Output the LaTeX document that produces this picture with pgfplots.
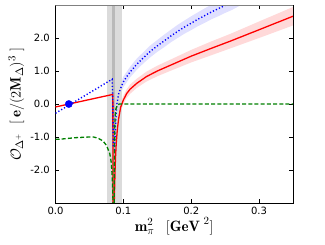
\documentclass[border=0pt]{standalone}
\usepackage{pgfplots}
\pgfplotsset{compat=1.18}
\usepgfplotslibrary{fillbetween}
\usepackage{fontspec}
\newfontfamily\tickfont{DejaVu Sans}
\begin{document}
\begin{tikzpicture}
\begin{axis}[
  at={(0,0)}, anchor=south west,
  scale only axis, width=237.5pt, height=198pt,
  xmin=0, xmax=0.35, ymin=-3, ymax=3,
  xtick={0,0.1,0.2,0.3}, xticklabels={0.0,0.1,0.2,0.3},
  ytick={-2,-1,0,1,2}, yticklabels={-2.0,-1.0,0.0,1.0,2.0},
  tick align=inside, major tick length=3.5pt, minor tick num=0,
  tick style={black, line width=0.5pt},
  axis line style={black, line width=0.8pt},
  xticklabel style={font=\tickfont\fontsize{10}{12}\selectfont, inner sep=0pt, yshift=-3.5pt},
  yticklabel style={font=\tickfont\fontsize{10}{12}\selectfont, inner sep=0pt, xshift=-5.5pt},
  xlabel={$\mathbf{m}_\pi^2\ \ \,[\mathbf{GeV}^{\,\,2}]$},
  ylabel={$\mathcal{O}_{\Delta^+}\ \ [\,\mathbf{e}/(2\mathbf{M}_\Delta)^3\,\,]$},
  xlabel style={font=\fontsize{15}{18}\selectfont, at={(axis description cs:0.5,-0.118)}, anchor=center},
  ylabel style={font=\fontsize{15}{18}\selectfont, at={(axis description cs:-0.165,0.5)}, anchor=center},
  clip=true,
]
% grey threshold bands
\addplot[fill=gray!28, draw=none] coordinates {(0.0754,-3) (0.0975,-3) (0.0975,3) (0.0754,3)} -- cycle;
\addplot[fill=gray!55, draw=none] coordinates {(0.0837,-3) (0.0877,-3) (0.0877,3) (0.0837,3)} -- cycle;
% red band
\addplot[name path=ru, draw=none, forget plot] coordinates {
(0.093,-0.33) (0.096,0.03) (0.1,0.25) (0.105,0.45) (0.11,0.59) (0.12,0.77) (0.134,0.98) (0.15,1.16) (0.17,1.35) (0.2,1.64) (0.23,1.90) (0.257,2.12) (0.3,2.50) (0.35,2.94)};
\addplot[name path=rl, draw=none, forget plot] coordinates {
(0.093,-0.57) (0.096,-0.23) (0.1,-0.01) (0.105,0.19) (0.11,0.31) (0.12,0.49) (0.134,0.68) (0.15,0.84) (0.17,1.01) (0.2,1.26) (0.23,1.48) (0.257,1.68) (0.3,2.00) (0.35,2.38)};
\addplot[red!15, draw=none] fill between[of=ru and rl];
% blue band
\addplot[name path=bu, draw=none, forget plot] coordinates {
(0.093,0.45) (0.1,0.83) (0.11,1.13) (0.12,1.38) (0.13,1.58) (0.14,1.78) (0.15,1.94) (0.16,2.10) (0.17,2.25) (0.18,2.40) (0.19,2.53) (0.2,2.66) (0.21,2.78) (0.22,2.90) (0.23,3.01) (0.24,3.12) (0.25,3.22) (0.26,3.33) (0.27,3.44) (0.28,3.55)};
\addplot[name path=bl, draw=none, forget plot] coordinates {
(0.093,0.15) (0.1,0.51) (0.11,0.81) (0.12,1.04) (0.13,1.24) (0.14,1.42) (0.15,1.58) (0.16,1.72) (0.17,1.87) (0.18,2.00) (0.19,2.13) (0.2,2.24) (0.21,2.36) (0.22,2.46) (0.23,2.57) (0.24,2.66) (0.25,2.76) (0.26,2.85) (0.27,2.96) (0.28,3.05)};
\addplot[blue!12, draw=none] fill between[of=bu and bl];
% left small bands
\addplot[blue!10, draw=none] coordinates {(0,-0.22) (0.0835,0.83) (0.0835,0.67) (0,-0.34)} -- cycle;
\addplot[red!12, draw=none] coordinates {(0,-0.06) (0.0845,0.32) (0.0845,0.26) (0,-0.12)} -- cycle;
% red curve
\addplot[red, line width=1.3pt] coordinates {(0,-0.09) (0.0845,0.29) (0.0848,-3.0)};
\addplot[red, line width=1.3pt] coordinates {
(0.0866,-3.0) (0.0872,-2.5) (0.0878,-2.0) (0.0885,-1.6) (0.0895,-1.2) (0.091,-0.8) (0.093,-0.45) (0.096,-0.1) (0.1,0.12) (0.105,0.32) (0.11,0.45) (0.12,0.63) (0.134,0.83) (0.15,1.0) (0.17,1.18) (0.2,1.45) (0.23,1.69) (0.257,1.9) (0.3,2.25) (0.35,2.66)};
% blue dotted curve
\addplot[blue, line width=1.4pt, dash pattern=on 1.2pt off 2.1pt] coordinates {(0,-0.28) (0.0835,0.75) (0.0842,0.3) (0.0848,-0.5) (0.0852,-1.3)};
\addplot[blue, line width=1.4pt, dash pattern=on 1.2pt off 2.1pt] coordinates {
(0.0872,-1.4) (0.0878,-1.0) (0.0888,-0.5) (0.0905,0.0) (0.093,0.3) (0.096,0.48) (0.1,0.67) (0.105,0.83) (0.11,0.97) (0.12,1.21) (0.13,1.41) (0.14,1.60) (0.15,1.76) (0.16,1.91) (0.17,2.06) (0.18,2.20) (0.19,2.33) (0.2,2.45) (0.21,2.57) (0.22,2.68) (0.23,2.79) (0.24,2.89) (0.25,2.99) (0.26,3.09)};
% green dashed curve
\addplot[green!50!black, line width=1.3pt, dash pattern=on 4pt off 2.2pt] coordinates {
(0,-1.07) (0.01,-1.06) (0.02,-1.04) (0.03,-1.02) (0.04,-1.01) (0.05,-1.0) (0.056,-1.0) (0.063,-1.04) (0.07,-1.12) (0.075,-1.25) (0.08,-1.5) (0.082,-1.75) (0.083,-2.0) (0.084,-2.4) (0.0848,-3.0)};
\addplot[green!50!black, line width=1.3pt, dash pattern=on 4pt off 2.2pt] coordinates {
(0.0865,-3.0) (0.0868,-1.8) (0.0872,-0.9) (0.0878,-0.4) (0.089,-0.15) (0.091,-0.04) (0.094,0) (0.35,0)};
% physical point
\addplot[blue, only marks, mark=*, mark size=3.6pt] coordinates {(0.0196,0)};
\draw[gray, line width=1pt] (rel axis cs:0,1) -- (rel axis cs:1,1);
\end{axis}
\pgfresetboundingbox
\path (-55.5pt,-42pt) rectangle (269.5pt,203pt);
\end{tikzpicture}
\end{document}
